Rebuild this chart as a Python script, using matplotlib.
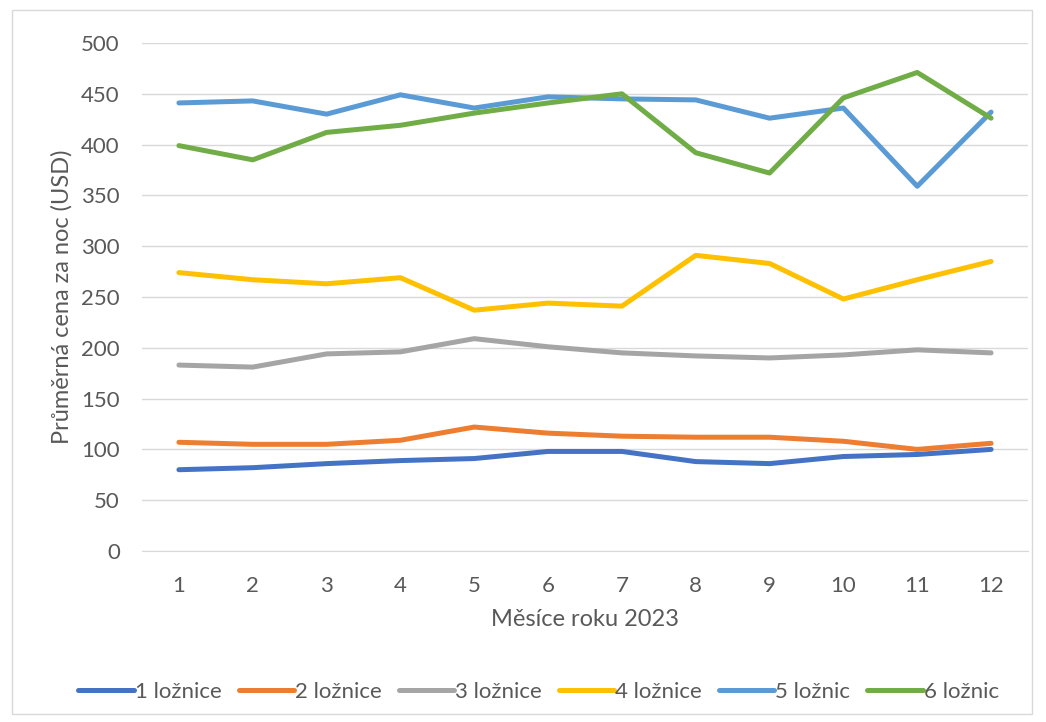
import matplotlib.pyplot as plt
from matplotlib.patches import Rectangle

plt.rcParams['font.family'] = ['Lato', 'DejaVu Sans']

# průměrné ceny za noc podle počtu ložnic
months = list(range(1, 13))
series_names = ["1 ložnice", "2 ložnice", "3 ložnice", "4 ložnice", "5 ložnic", "6 ložnic"]
bed1 = [80, 82, 86, 89, 91, 98, 98, 88, 86, 93, 95, 100]
bed2 = [107, 105, 105, 109, 122, 116, 113, 112, 112, 108, 100, 106]
bed3 = [183, 181, 194, 196, 209, 201, 195, 192, 190, 193, 198, 195]
bed4 = [274, 267, 263, 269, 237, 244, 241, 291, 283, 248, 267, 285]
bed5 = [441, 443, 430, 449, 436, 447, 445, 444, 426, 436, 359, 432]
bed6 = [399, 385, 412, 419, 431, 441, 450, 392, 372, 446, 471, 426]
colors = ["#4472C4", "#ED7D31", "#A5A5A5", "#FFC000", "#5B9BD5", "#70AD47"]

fig = plt.figure(figsize=(10.46, 7.22), dpi=100)
ax = fig.add_axes([142 / 1046, 1 - 551 / 722, 886 / 1046, 508 / 722])

# rámeček grafu
fig.patches.append(Rectangle((12 / 1046, 8 / 722), 1020 / 1046, 704 / 722,
                             transform=fig.transFigure, fill=False,
                             edgecolor='#D9D9D9', linewidth=1))

for name, vals, c in zip(series_names, [bed1, bed2, bed3, bed4, bed5, bed6], colors):
    ax.plot(months, vals, color=c, linewidth=3.6, label=name,
            solid_capstyle='round', solid_joinstyle='round')

ax.set_xlim(0.5, 12.5)
ax.set_ylim(0, 500)
ax.set_xticks(months)
ax.set_yticks(range(0, 501, 50))
ax.yaxis.grid(True, color='#D9D9D9', linewidth=1)
ax.set_axisbelow(True)
for s in ['top', 'right', 'left']:
    ax.spines[s].set_visible(False)
ax.spines['bottom'].set_color('#D9D9D9')
ax.tick_params(length=0, labelsize=16, colors='#595959')
ax.tick_params(axis='x', pad=18)
ax.tick_params(axis='y', pad=16)

ax.set_xlabel("Měsíce roku 2023", fontsize=17, color='#595959', labelpad=9)
ax.set_ylabel("Průměrná cena za noc (USD)", fontsize=17, color='#595959', labelpad=6)

fig.legend(loc='center', bbox_to_anchor=(0.515, 1 - 692 / 722), ncol=6,
           frameon=False, fontsize=16, handlelength=2.5, handletextpad=0.05,
           columnspacing=0.75, labelcolor='#595959')

fig.savefig('out.png', dpi=100, facecolor='white')
